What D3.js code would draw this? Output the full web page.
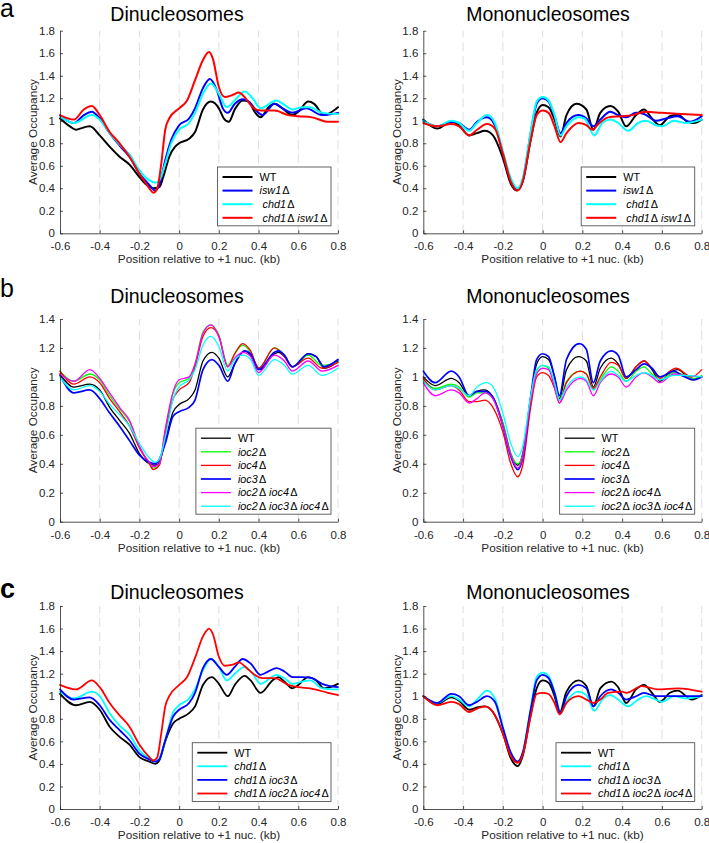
<!DOCTYPE html>
<html><head><meta charset="utf-8">
<script src="https://cdn.jsdelivr.net/npm/d3@7"></script>
<style>
html,body{margin:0;padding:0;background:#fff;}
svg{display:block;font-family:"Liberation Sans",Arial,Helvetica,sans-serif;}
</style></head><body>
<svg id="chart" width="709" height="843"></svg>
<script>
// ---------- tick labels / text ----------
const xTicks = [-0.6,-0.4,-0.2,0,0.2,0.4,0.6,0.8];
const yTicksTall = [0,0.2,0.4,0.6,0.8,1,1.2,1.4,1.6,1.8];
const yTicksShort = [0,0.2,0.4,0.6,0.8,1,1.2,1.4];
const titles = ["Dinucleosomes","Mononucleosomes"];
const xLabel = "Position relative to +1 nuc. (kb)";
const yLabel = "Average Occupancy";
const panelLetters = ["a","b","c"];
const labelsA = ["WT","isw1Δ"," chd1Δ"," chd1Δ isw1Δ"];
const labelsB = ["WT","ioc2Δ","ioc4Δ","ioc3Δ","ioc2Δ ioc4Δ","ioc2Δ ioc3Δ ioc4Δ"];
const labelsC = ["WT","chd1Δ","chd1Δ ioc3Δ","chd1Δ ioc2Δ ioc4Δ"];

// ---------- panel a : dinucleosomes ----------
const aDiWT = [[-0.6,1.02],[-0.55,0.95],[-0.52,0.92],[-0.5,0.93],[-0.45,0.95],[-0.4,0.87],[-0.35,0.77],[-0.3,0.68],[-0.25,0.61],[-0.2,0.50],[-0.17,0.44],[-0.13,0.40],[-0.1,0.41],[-0.08,0.50],[-0.05,0.68],[-0.02,0.77],[0,0.80],[0.05,0.84],[0.08,0.90],[0.12,1.10],[0.16,1.17],[0.2,1.11],[0.225,1.02],[0.25,0.99],[0.28,1.10],[0.32,1.18],[0.35,1.17],[0.38,1.08],[0.41,1.03],[0.45,1.12],[0.48,1.15],[0.52,1.11],[0.57,1.05],[0.6,1.08],[0.65,1.17],[0.68,1.15],[0.73,1.05],[0.76,1.07],[0.8,1.12]];
const aDiIsw1 = [[-0.6,1.04],[-0.53,0.98],[-0.48,1.05],[-0.44,1.08],[-0.4,1.02],[-0.35,0.89],[-0.3,0.78],[-0.25,0.68],[-0.2,0.53],[-0.15,0.43],[-0.12,0.38],[-0.1,0.43],[-0.07,0.65],[-0.04,0.83],[0,0.96],[0.05,1.02],[0.08,1.11],[0.12,1.29],[0.155,1.37],[0.19,1.27],[0.22,1.11],[0.245,1.07],[0.28,1.15],[0.32,1.19],[0.35,1.17],[0.4,1.07],[0.42,1.05],[0.48,1.15],[0.53,1.10],[0.57,1.07],[0.64,1.11],[0.72,1.05],[0.8,1.07]];
const aDiChd1 = [[-0.6,1.04],[-0.53,0.98],[-0.44,1.05],[-0.4,1.01],[-0.35,0.89],[-0.3,0.79],[-0.25,0.70],[-0.2,0.56],[-0.15,0.47],[-0.12,0.45],[-0.1,0.47],[-0.07,0.62],[-0.04,0.80],[0,0.92],[0.05,0.98],[0.08,1.07],[0.12,1.24],[0.16,1.33],[0.2,1.24],[0.24,1.12],[0.28,1.18],[0.33,1.26],[0.37,1.20],[0.41,1.11],[0.49,1.18],[0.53,1.14],[0.57,1.10],[0.62,1.12],[0.66,1.12],[0.72,1.07],[0.8,1.06]];
const aDiDbl = [[-0.6,1.05],[-0.53,1.01],[-0.48,1.10],[-0.44,1.13],[-0.4,1.05],[-0.35,0.90],[-0.3,0.80],[-0.25,0.68],[-0.2,0.53],[-0.15,0.40],[-0.13,0.36],[-0.11,0.40],[-0.09,0.62],[-0.07,0.92],[-0.05,1.02],[0,1.11],[0.04,1.18],[0.08,1.36],[0.12,1.54],[0.15,1.61],[0.17,1.55],[0.2,1.30],[0.23,1.21],[0.27,1.23],[0.3,1.25],[0.33,1.21],[0.37,1.12],[0.41,1.09],[0.48,1.09],[0.55,1.05],[0.6,1.04],[0.67,1.03],[0.75,0.99],[0.8,0.99]];

// ---------- panel a : mononucleosomes ----------
const aMoWT = [[-0.6,1.01],[-0.53,0.93],[-0.46,0.99],[-0.42,0.96],[-0.37,0.87],[-0.33,0.89],[-0.29,0.91],[-0.25,0.87],[-0.2,0.67],[-0.16,0.44],[-0.13,0.38],[-0.1,0.46],[-0.06,0.83],[-0.03,1.07],[0,1.14],[0.03,1.12],[0.06,1.01],[0.09,0.86],[0.12,1.05],[0.17,1.15],[0.22,1.10],[0.255,0.92],[0.29,1.07],[0.34,1.13],[0.38,1.08],[0.42,0.95],[0.47,1.05],[0.51,1.10],[0.55,1.02],[0.59,0.96],[0.64,1.04],[0.68,1.05],[0.73,0.99],[0.76,0.98],[0.8,1.01]];
const aMoIsw1 = [[-0.6,1.00],[-0.53,0.95],[-0.46,0.99],[-0.42,0.98],[-0.37,0.92],[-0.33,0.99],[-0.28,1.03],[-0.24,0.96],[-0.2,0.71],[-0.16,0.47],[-0.125,0.39],[-0.1,0.47],[-0.06,0.89],[-0.03,1.15],[0,1.20],[0.03,1.17],[0.06,1.04],[0.09,0.89],[0.12,0.98],[0.18,1.05],[0.22,1.02],[0.255,0.95],[0.29,1.01],[0.34,1.08],[0.38,1.05],[0.42,1.03],[0.47,1.07],[0.51,1.06],[0.57,1.00],[0.62,1.02],[0.68,1.04],[0.74,0.99],[0.8,1.04]];
const aMoChd1 = [[-0.6,1.00],[-0.53,0.95],[-0.46,1.00],[-0.42,0.98],[-0.37,0.91],[-0.33,0.98],[-0.28,1.05],[-0.24,0.98],[-0.2,0.73],[-0.16,0.49],[-0.125,0.40],[-0.1,0.49],[-0.06,0.90],[-0.03,1.17],[0,1.21],[0.03,1.18],[0.06,1.05],[0.09,0.87],[0.12,0.95],[0.18,1.03],[0.21,1.02],[0.26,0.87],[0.3,0.98],[0.34,1.01],[0.38,0.98],[0.43,0.91],[0.48,0.98],[0.52,1.00],[0.57,0.96],[0.6,0.95],[0.66,1.00],[0.72,0.98],[0.8,1.01]];
const aMoDbl = [[-0.6,0.98],[-0.53,0.95],[-0.46,0.97],[-0.42,0.95],[-0.37,0.87],[-0.33,0.92],[-0.28,0.97],[-0.24,0.93],[-0.2,0.71],[-0.16,0.46],[-0.125,0.38],[-0.1,0.46],[-0.06,0.83],[-0.03,1.05],[0,1.09],[0.03,1.07],[0.06,0.95],[0.09,0.81],[0.12,0.89],[0.18,0.98],[0.22,0.96],[0.25,0.92],[0.28,0.97],[0.33,1.03],[0.4,1.04],[0.45,1.05],[0.52,1.08],[0.6,1.07],[0.7,1.06],[0.8,1.05]];

// ---------- panel b : dinucleosomes ----------
const bDiWT = [[-0.6,1.02],[-0.53,0.93],[-0.45,0.95],[-0.4,0.91],[-0.35,0.79],[-0.3,0.70],[-0.25,0.61],[-0.2,0.47],[-0.15,0.40],[-0.12,0.39],[-0.1,0.41],[-0.07,0.56],[-0.03,0.76],[0,0.81],[0.05,0.85],[0.08,0.91],[0.12,1.11],[0.165,1.17],[0.2,1.13],[0.245,1.00],[0.28,1.09],[0.33,1.18],[0.36,1.15],[0.41,1.05],[0.47,1.15],[0.5,1.17],[0.53,1.14],[0.57,1.07],[0.6,1.09],[0.65,1.16],[0.69,1.14],[0.73,1.06],[0.76,1.07],[0.8,1.11]];
const bDiIoc2 = [[-0.6,1.04],[-0.53,0.97],[-0.45,1.02],[-0.4,0.98],[-0.35,0.87],[-0.3,0.78],[-0.25,0.69],[-0.2,0.52],[-0.15,0.40],[-0.13,0.37],[-0.1,0.39],[-0.07,0.63],[-0.03,0.89],[0,0.96],[0.05,0.99],[0.08,1.09],[0.12,1.31],[0.16,1.36],[0.2,1.29],[0.245,1.08],[0.28,1.16],[0.32,1.22],[0.36,1.17],[0.4,1.06],[0.48,1.20],[0.53,1.15],[0.57,1.07],[0.65,1.15],[0.72,1.08],[0.8,1.10]];
const bDiIoc4 = [[-0.6,1.04],[-0.53,0.95],[-0.45,1.00],[-0.4,0.96],[-0.35,0.85],[-0.3,0.76],[-0.25,0.66],[-0.2,0.51],[-0.15,0.40],[-0.13,0.36],[-0.1,0.39],[-0.07,0.61],[-0.03,0.85],[0,0.91],[0.05,0.96],[0.08,1.07],[0.12,1.28],[0.16,1.34],[0.2,1.28],[0.245,1.07],[0.28,1.16],[0.32,1.23],[0.36,1.18],[0.4,1.06],[0.48,1.20],[0.53,1.14],[0.57,1.07],[0.65,1.13],[0.72,1.06],[0.8,1.10]];
const bDiIoc3 = [[-0.6,1.01],[-0.53,0.89],[-0.45,0.91],[-0.4,0.85],[-0.35,0.75],[-0.3,0.66],[-0.25,0.56],[-0.2,0.46],[-0.15,0.41],[-0.12,0.40],[-0.1,0.43],[-0.07,0.54],[-0.03,0.73],[0,0.76],[0.05,0.79],[0.08,0.84],[0.12,1.05],[0.165,1.12],[0.2,1.08],[0.245,0.97],[0.28,1.09],[0.33,1.18],[0.36,1.16],[0.4,1.05],[0.48,1.17],[0.5,1.18],[0.53,1.15],[0.57,1.07],[0.65,1.16],[0.69,1.14],[0.73,1.07],[0.8,1.12]];
const bDiI24 = [[-0.6,1.02],[-0.53,0.97],[-0.45,1.05],[-0.4,0.99],[-0.35,0.89],[-0.3,0.79],[-0.25,0.70],[-0.2,0.52],[-0.15,0.41],[-0.13,0.38],[-0.1,0.40],[-0.07,0.64],[-0.03,0.90],[0,0.98],[0.05,1.00],[0.08,1.09],[0.12,1.30],[0.16,1.36],[0.2,1.28],[0.245,1.07],[0.28,1.13],[0.32,1.17],[0.36,1.14],[0.4,1.03],[0.48,1.15],[0.53,1.11],[0.57,1.04],[0.65,1.11],[0.72,1.04],[0.8,1.08]];
const bDiI234 = [[-0.6,1.00],[-0.53,0.91],[-0.45,0.94],[-0.4,0.90],[-0.35,0.81],[-0.3,0.74],[-0.25,0.66],[-0.2,0.54],[-0.15,0.44],[-0.12,0.41],[-0.1,0.43],[-0.07,0.58],[-0.03,0.85],[0,0.93],[0.05,0.98],[0.08,1.05],[0.12,1.22],[0.16,1.28],[0.2,1.21],[0.245,1.04],[0.28,1.12],[0.32,1.15],[0.36,1.12],[0.4,1.01],[0.48,1.12],[0.53,1.08],[0.57,1.02],[0.65,1.08],[0.72,1.01],[0.8,1.06]];

// ---------- panel b : mononucleosomes ----------
const bMoWT = [[-0.6,1.00],[-0.54,0.94],[-0.46,0.99],[-0.42,0.96],[-0.37,0.87],[-0.33,0.90],[-0.29,0.91],[-0.25,0.86],[-0.2,0.68],[-0.16,0.47],[-0.125,0.39],[-0.1,0.47],[-0.06,0.86],[-0.03,1.09],[0,1.14],[0.03,1.12],[0.06,1.00],[0.085,0.85],[0.12,1.05],[0.18,1.14],[0.22,1.11],[0.255,0.93],[0.29,1.06],[0.345,1.13],[0.38,1.09],[0.42,0.99],[0.47,1.07],[0.51,1.11],[0.55,1.05],[0.59,0.97],[0.64,1.03],[0.68,1.05],[0.75,0.98],[0.8,1.00]];
const bMoIoc2 = [[-0.6,0.98],[-0.54,0.92],[-0.46,0.95],[-0.42,0.93],[-0.37,0.86],[-0.33,0.89],[-0.29,0.89],[-0.25,0.85],[-0.2,0.68],[-0.16,0.47],[-0.125,0.40],[-0.1,0.46],[-0.06,0.83],[-0.03,1.04],[0,1.08],[0.03,1.06],[0.06,0.96],[0.085,0.84],[0.12,0.97],[0.19,1.04],[0.22,1.02],[0.255,0.91],[0.29,0.98],[0.345,1.07],[0.38,1.04],[0.42,0.97],[0.47,1.04],[0.51,1.07],[0.55,1.02],[0.59,0.98],[0.66,1.03],[0.7,1.02],[0.76,0.99],[0.8,1.01]];
const bMoIoc4 = [[-0.6,0.99],[-0.54,0.91],[-0.46,0.94],[-0.42,0.91],[-0.37,0.83],[-0.33,0.83],[-0.29,0.84],[-0.25,0.79],[-0.2,0.62],[-0.16,0.40],[-0.125,0.31],[-0.1,0.39],[-0.06,0.79],[-0.03,1.00],[0,1.03],[0.03,1.01],[0.06,0.92],[0.085,0.82],[0.12,0.96],[0.19,1.04],[0.22,1.02],[0.255,0.92],[0.29,1.00],[0.345,1.10],[0.38,1.08],[0.42,0.99],[0.47,1.07],[0.51,1.11],[0.55,1.06],[0.59,0.99],[0.64,1.04],[0.67,1.06],[0.75,1.00],[0.8,1.05]];
const bMoIoc3 = [[-0.6,1.04],[-0.54,0.96],[-0.46,1.04],[-0.42,1.00],[-0.37,0.87],[-0.33,0.90],[-0.29,0.90],[-0.25,0.86],[-0.2,0.66],[-0.16,0.45],[-0.125,0.36],[-0.1,0.44],[-0.06,0.86],[-0.03,1.12],[0,1.16],[0.03,1.14],[0.06,1.00],[0.085,0.87],[0.12,1.12],[0.185,1.23],[0.22,1.19],[0.255,0.96],[0.29,1.11],[0.345,1.18],[0.38,1.15],[0.42,1.00],[0.47,1.05],[0.51,1.09],[0.55,1.06],[0.59,1.00],[0.66,1.04],[0.7,1.01],[0.76,0.98],[0.8,1.00]];
const bMoI24 = [[-0.6,0.96],[-0.54,0.87],[-0.46,0.91],[-0.42,0.89],[-0.37,0.82],[-0.33,0.85],[-0.29,0.89],[-0.25,0.85],[-0.2,0.66],[-0.16,0.46],[-0.125,0.37],[-0.1,0.45],[-0.06,0.84],[-0.03,1.02],[0,1.06],[0.03,1.05],[0.06,0.93],[0.085,0.82],[0.12,0.91],[0.19,0.99],[0.22,0.97],[0.255,0.87],[0.29,0.96],[0.345,1.02],[0.38,1.00],[0.42,0.93],[0.47,1.00],[0.51,1.03],[0.55,1.00],[0.59,0.96],[0.66,1.02],[0.72,1.01],[0.8,1.00]];
const bMoI234 = [[-0.6,0.97],[-0.54,0.91],[-0.46,0.94],[-0.42,0.92],[-0.37,0.87],[-0.33,0.93],[-0.28,0.96],[-0.24,0.91],[-0.2,0.75],[-0.16,0.54],[-0.125,0.45],[-0.1,0.52],[-0.06,0.87],[-0.03,1.05],[0,1.08],[0.03,1.07],[0.06,0.96],[0.085,0.84],[0.12,0.93],[0.19,1.00],[0.22,0.98],[0.255,0.91],[0.29,0.97],[0.345,1.04],[0.38,1.01],[0.42,0.97],[0.47,1.01],[0.51,1.03],[0.55,1.01],[0.59,0.98],[0.66,1.01],[0.7,1.01],[0.8,1.00]];

// ---------- panel c : dinucleosomes ----------
const cDiWT = [[-0.6,1.02],[-0.52,0.92],[-0.45,0.95],[-0.4,0.88],[-0.35,0.73],[-0.3,0.64],[-0.25,0.57],[-0.2,0.46],[-0.15,0.42],[-0.12,0.40],[-0.1,0.43],[-0.07,0.60],[-0.03,0.76],[0,0.80],[0.05,0.85],[0.08,0.91],[0.12,1.10],[0.165,1.17],[0.2,1.11],[0.245,1.00],[0.28,1.10],[0.33,1.18],[0.36,1.14],[0.41,1.03],[0.47,1.14],[0.5,1.17],[0.53,1.13],[0.57,1.07],[0.6,1.10],[0.65,1.17],[0.69,1.14],[0.73,1.07],[0.76,1.08],[0.8,1.11]];
const cDiChd1 = [[-0.6,1.04],[-0.53,0.98],[-0.44,1.04],[-0.4,1.00],[-0.35,0.85],[-0.3,0.74],[-0.25,0.66],[-0.2,0.52],[-0.15,0.45],[-0.12,0.43],[-0.1,0.45],[-0.07,0.61],[-0.03,0.86],[0,0.92],[0.05,0.98],[0.08,1.06],[0.12,1.23],[0.16,1.33],[0.2,1.26],[0.24,1.14],[0.28,1.20],[0.33,1.26],[0.37,1.20],[0.41,1.11],[0.49,1.19],[0.53,1.16],[0.57,1.11],[0.62,1.13],[0.66,1.14],[0.72,1.07],[0.8,1.06]];
const cDiC3 = [[-0.6,1.06],[-0.53,0.97],[-0.45,0.99],[-0.4,0.92],[-0.35,0.79],[-0.3,0.70],[-0.25,0.61],[-0.2,0.49],[-0.15,0.44],[-0.12,0.42],[-0.1,0.44],[-0.07,0.61],[-0.03,0.82],[0,0.88],[0.05,0.94],[0.08,1.03],[0.12,1.25],[0.16,1.33],[0.2,1.26],[0.24,1.19],[0.28,1.26],[0.32,1.33],[0.36,1.29],[0.41,1.19],[0.45,1.22],[0.49,1.25],[0.53,1.22],[0.57,1.17],[0.62,1.17],[0.67,1.16],[0.72,1.11],[0.8,1.08]];
const cDiC24 = [[-0.6,1.10],[-0.52,1.06],[-0.44,1.14],[-0.4,1.08],[-0.35,0.94],[-0.3,0.83],[-0.25,0.73],[-0.2,0.57],[-0.15,0.46],[-0.13,0.43],[-0.11,0.46],[-0.09,0.67],[-0.07,0.91],[-0.05,1.00],[0,1.10],[0.04,1.17],[0.08,1.34],[0.12,1.53],[0.15,1.60],[0.17,1.55],[0.2,1.35],[0.23,1.27],[0.27,1.28],[0.3,1.30],[0.34,1.25],[0.38,1.19],[0.42,1.16],[0.48,1.16],[0.55,1.10],[0.6,1.08],[0.66,1.07],[0.75,1.03],[0.8,1.01]];

// ---------- panel c : mononucleosomes ----------
const cMoWT = [[-0.6,1.00],[-0.53,0.93],[-0.46,0.99],[-0.42,0.96],[-0.37,0.88],[-0.33,0.90],[-0.29,0.91],[-0.25,0.86],[-0.2,0.67],[-0.16,0.45],[-0.125,0.38],[-0.1,0.47],[-0.06,0.84],[-0.03,1.07],[0,1.14],[0.03,1.12],[0.06,1.00],[0.085,0.85],[0.12,1.04],[0.18,1.14],[0.22,1.09],[0.255,0.91],[0.29,1.07],[0.345,1.13],[0.38,1.08],[0.42,0.94],[0.47,1.06],[0.51,1.10],[0.55,1.03],[0.59,0.95],[0.64,1.03],[0.68,1.05],[0.75,0.97],[0.8,1.01]];
const cMoChd1 = [[-0.6,1.00],[-0.53,0.94],[-0.46,1.00],[-0.42,0.97],[-0.37,0.91],[-0.33,0.97],[-0.28,1.05],[-0.24,0.98],[-0.2,0.73],[-0.16,0.50],[-0.125,0.42],[-0.1,0.50],[-0.06,0.89],[-0.03,1.17],[0,1.21],[0.03,1.18],[0.06,1.04],[0.09,0.85],[0.12,0.95],[0.18,1.04],[0.22,1.01],[0.26,0.87],[0.3,0.97],[0.34,1.01],[0.38,0.97],[0.43,0.91],[0.48,0.97],[0.52,1.00],[0.57,0.97],[0.6,0.95],[0.66,1.00],[0.72,0.98],[0.8,1.00]];
const cMoC3 = [[-0.6,1.00],[-0.53,0.94],[-0.46,1.02],[-0.42,1.00],[-0.37,0.92],[-0.33,0.95],[-0.28,1.00],[-0.24,0.95],[-0.2,0.72],[-0.16,0.50],[-0.125,0.42],[-0.1,0.50],[-0.06,0.88],[-0.03,1.14],[0,1.19],[0.03,1.16],[0.06,1.03],[0.09,0.85],[0.12,1.00],[0.18,1.10],[0.22,1.07],[0.255,0.91],[0.29,1.00],[0.345,1.06],[0.38,1.03],[0.42,0.97],[0.47,1.00],[0.51,1.03],[0.57,1.00],[0.62,1.00],[0.7,1.00],[0.8,1.00]];
const cMoC24 = [[-0.6,1.00],[-0.53,0.92],[-0.46,0.95],[-0.42,0.93],[-0.37,0.86],[-0.33,0.89],[-0.29,0.91],[-0.25,0.86],[-0.2,0.67],[-0.16,0.47],[-0.125,0.41],[-0.1,0.48],[-0.06,0.82],[-0.03,1.02],[0,1.03],[0.03,1.02],[0.06,0.94],[0.085,0.84],[0.12,0.94],[0.18,1.00],[0.22,0.97],[0.255,0.94],[0.29,0.97],[0.33,1.03],[0.4,1.04],[0.42,1.03],[0.5,1.09],[0.58,1.06],[0.68,1.07],[0.8,1.04]];

// ---------- layout ----------
const K = "#000000", B = "#0000ff", C = "#00ffff", R = "#ff0000", G = "#00ff00", M = "#ff00ff";
const cols = [
  {x0: 60, x1: 338, titleX: 177, yLabX: 37},
  {x0: 423.3, x1: 701.7, titleX: 548, yLabX: 400.5}
];
const rows = [
  {yTop: 30.7, yBot: 233.3, ymax: 1.8, ticks: yTicksTall, titleY: 21, letterY: 16.7, letterSize: 25, letterWeight: "normal",
   lws: [2, 2, 2, 2],
   labels: labelsA, colors: [K, B, C, R], series: [[aDiWT, aDiIsw1, aDiChd1, aDiDbl], [aMoWT, aMoIsw1, aMoChd1, aMoDbl]]},
  {yTop: 319, yBot: 521.7, ymax: 1.4, ticks: yTicksShort, titleY: 302.5, letterY: 296.5, letterSize: 25, letterWeight: "normal",
   lws: [1.3, 1.3, 1.3, 1.7, 1.3, 1.3],
   labels: labelsB, colors: [K, G, R, B, M, C], series: [[bDiWT, bDiIoc2, bDiIoc4, bDiIoc3, bDiI24, bDiI234], [bMoWT, bMoIoc2, bMoIoc4, bMoIoc3, bMoI24, bMoI234]]},
  {yTop: 606, yBot: 809, ymax: 1.8, ticks: yTicksTall, titleY: 599, letterY: 598.3, letterSize: 27, letterWeight: "bold",
   lws: [1.8, 1.8, 1.8, 1.8],
   labels: labelsC, colors: [K, C, B, R], series: [[cDiWT, cDiChd1, cDiC3, cDiC24], [cMoWT, cMoChd1, cMoC3, cMoC24]]}
];

const svg = d3.select("#chart");
const axisColor = "#262626";

rows.forEach((row, ri) => {
  svg.append("text").attr("x", 0).attr("y", row.letterY)
    .attr("font-size", row.letterSize).attr("font-weight", row.letterWeight).attr("fill", "#000")
    .text(panelLetters[ri]);

  cols.forEach((col, ci) => {
    const x = d3.scaleLinear().domain([-0.6, 0.8]).range([col.x0, col.x1]);
    const y = d3.scaleLinear().domain([0, row.ymax]).range([row.yBot, row.yTop]);
    const g = svg.append("g");

    // dashed vertical grid
    g.append("g").selectAll("line").data(xTicks.filter(t => t > -0.6)).join("line")
      .attr("x1", d => x(d)).attr("x2", d => x(d))
      .attr("y1", row.yBot).attr("y2", row.yTop)
      .attr("stroke", "#dedede").attr("stroke-width", 1).attr("stroke-dasharray", "9,5");

    // series
    const line = d3.line().x(d => x(d[0])).y(d => y(d[1])).curve(d3.curveMonotoneX);
    row.series[ci].forEach((s, si) => {
      g.append("path").attr("d", line(s)).attr("fill", "none")
        .attr("stroke", row.colors[si]).attr("stroke-width", row.lws[si])
        .attr("stroke-linejoin", "round").attr("stroke-linecap", "round");
    });

    // axes
    const xa = g.append("g").attr("transform", `translate(0,${row.yBot})`)
      .call(d3.axisBottom(x).tickValues(xTicks).tickFormat(d => String(d)).tickSizeInner(-3).tickSizeOuter(0).tickPadding(9));
    const ya = g.append("g").attr("transform", `translate(${col.x0},0)`)
      .call(d3.axisLeft(y).tickValues(row.ticks).tickFormat(d => String(d)).tickSizeInner(-3).tickSizeOuter(0).tickPadding(5));
    [xa, ya].forEach(a => {
      a.selectAll("path,line").attr("stroke", axisColor).attr("stroke-width", 0.8);
      a.selectAll("text").attr("fill", axisColor).attr("font-size", 11.5)
        .attr("font-family", "'Liberation Sans',Arial,Helvetica,sans-serif");
    });

    // titles and axis labels
    g.append("text").attr("x", col.titleX).attr("y", row.titleY).attr("text-anchor", "middle")
      .attr("font-size", 19.5).attr("fill", "#000").text(titles[ci]);
    g.append("text").attr("x", (col.x0 + col.x1) / 2).attr("y", row.yBot + 30).attr("text-anchor", "middle")
      .attr("font-size", 11.8).attr("fill", axisColor).text(xLabel);
    g.append("text").attr("transform", `translate(${col.yLabX},${(row.yTop + row.yBot) / 2}) rotate(-90)`)
      .attr("text-anchor", "middle").attr("font-size", 11.8).attr("fill", axisColor).text(yLabel);

    // legend
    const n = row.labels.length, rowH = 13.6;
    const boxBottom = row.yBot - 7.5;
    const firstRow = boxBottom - 8 - (n - 1) * rowH;
    const lg = g.append("g");
    const rect = lg.append("rect").attr("fill", "#fff").attr("stroke", "#555").attr("stroke-width", 0.9);
    let maxW = 0;
    const lineX0 = 5, lineLen = 30, textX = lineX0 + lineLen + 7;
    row.labels.forEach((lab, li) => {
      const yy = firstRow + li * rowH;
      lg.append("line").attr("x1", lineX0).attr("x2", lineX0 + lineLen).attr("y1", yy).attr("y2", yy)
        .attr("stroke", row.colors[li]).attr("stroke-width", row.lws[li]);
      const t = lg.append("text").attr("x", textX).attr("y", yy + 3.8).attr("font-size", 10.8)
        .attr("fill", "#000").style("white-space", "pre");
      if (lab === "WT") {
        t.text(lab);
      } else {
        const parts = lab.split("Δ");
        parts.forEach((p, pi) => {
          if (p.length) t.append("tspan").attr("font-style", "italic").text(p);
          if (pi < parts.length - 1) t.append("tspan").attr("font-style", "normal").attr("dx", 1.2).text("Δ");
        });
      }
      maxW = Math.max(maxW, t.node().getComputedTextLength());
    });
    const boxW = textX + maxW + 6;
    const boxTop = firstRow - 10;
    rect.attr("x", 0).attr("y", boxTop).attr("width", boxW).attr("height", boxBottom - boxTop);
    lg.attr("transform", `translate(${col.x1 - 7 - boxW},0)`);
  });
});
</script>
</body></html>
